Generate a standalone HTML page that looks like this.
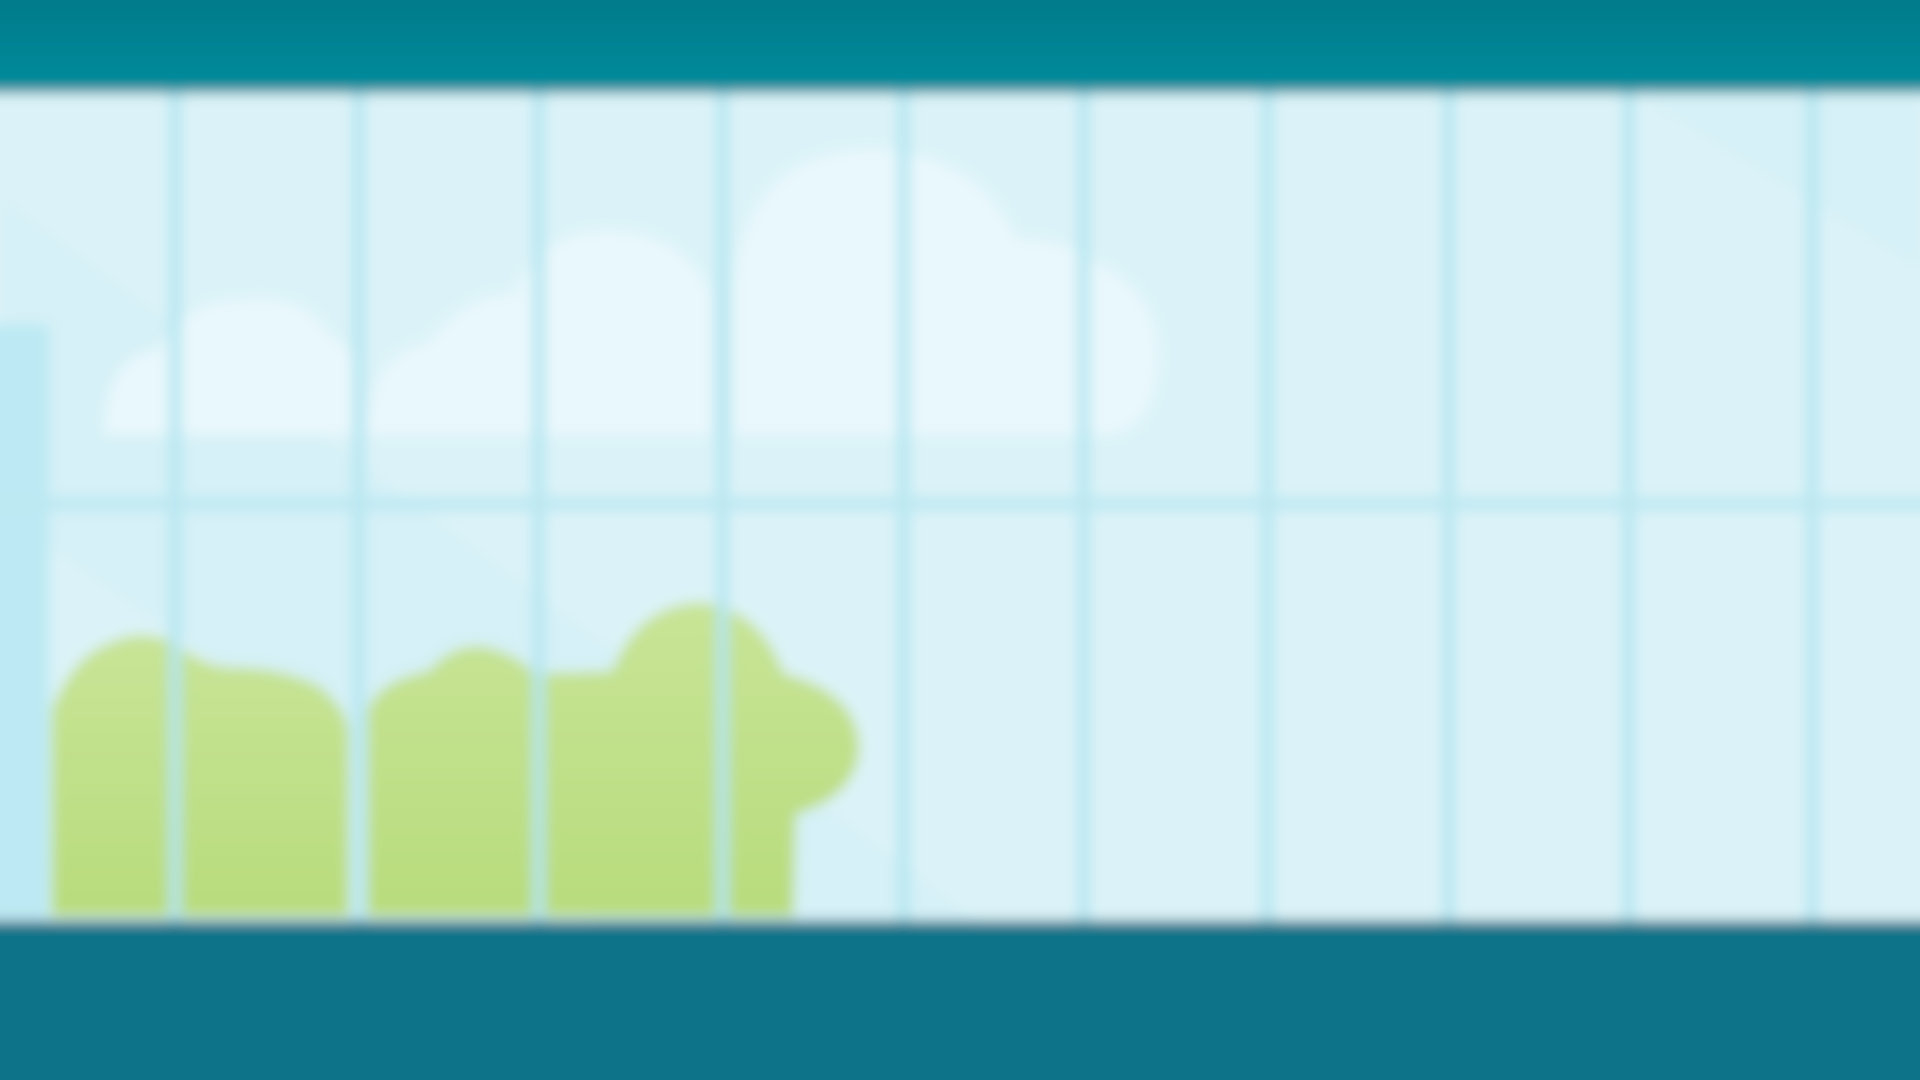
<!DOCTYPE html>
<html><head><meta charset="utf-8"><title>Window scene</title>
<style>
html,body{margin:0;padding:0;width:1920px;height:1080px;overflow:hidden;background:#dbf3f8;font-family:"Liberation Sans",sans-serif;}
svg{display:block}
</style></head>
<body>
<svg width="1920" height="1080" viewBox="0 0 1568 882" preserveAspectRatio="none" xmlns="http://www.w3.org/2000/svg">
<defs>
<filter id="b" x="-5%" y="-5%" width="110%" height="110%"><feGaussianBlur stdDeviation="5.5"/></filter>
<linearGradient id="top" x1="0" y1="0" x2="0" y2="1"><stop offset="0" stop-color="#007687"/><stop offset="1" stop-color="#008c9c"/></linearGradient>
<linearGradient id="bush" x1="0" y1="0" x2="0" y2="1"><stop offset="0" stop-color="#c8e496"/><stop offset="1" stop-color="#b8dc7c"/></linearGradient>
</defs>
<g filter="url(#b)">
<rect x="-20" y="-20" width="1610" height="920" fill="#dbf3f8"/>
<polygon points="0,160 0,420 700,900 1000,900" fill="#d6f1f7"/>
<polygon points="1340,80 1568,80 1568,220" fill="#d6f1f7"/>
<g fill="#e9f8fc">
<path d="M85,355 Q85,290 130,285 Q150,245 200,245 Q250,240 270,275 Q300,285 295,355 Z"/>
<path d="M300,355 Q300,290 350,280 Q380,240 420,240 Q440,190 495,188 Q560,190 580,240 L580,355 Z"/>
<path d="M600,355 L600,230 Q610,125 710,122 Q800,125 830,195 Q870,195 895,215 Q950,240 945,300 Q940,355 900,355 Z"/>
</g>
<rect x="-10" y="265" width="50" height="485" fill="#bce9f3"/>
<g fill="url(#bush)">
<path d="M42,748 L42,580 Q60,535 90,525 Q120,510 150,530 Q170,545 190,545 Q230,545 260,560 Q285,580 285,600 L285,748 Z"/>
<path d="M300,748 L300,580 Q310,555 350,548 Q370,525 395,528 Q425,535 435,550 L500,548 Q520,495 570,492 Q620,495 640,550 Q700,565 702,610 Q700,650 650,665 L648,748 Z"/>
</g>
<g fill="#b4e6f1" opacity="0.95">
<rect x="138" y="75" width="10" height="680"/><rect x="288" y="75" width="10" height="680"/>
<rect x="435" y="75" width="10" height="680"/><rect x="585" y="75" width="10" height="680"/>
<rect x="733" y="75" width="10" height="680"/><rect x="880" y="75" width="10" height="680"/>
<rect x="1030" y="75" width="10" height="680"/><rect x="1178" y="75" width="10" height="680"/>
<rect x="1325" y="75" width="10" height="680"/><rect x="1475" y="75" width="10" height="680"/>
</g>
<rect x="-10" y="406" width="1590" height="11" fill="#bde8f2"/>
<rect x="-20" y="-20" width="1610" height="96" fill="url(#top)"/>
<rect x="-20" y="752" width="1610" height="150" fill="#087389"/>
</g>
</svg>
</body></html>
